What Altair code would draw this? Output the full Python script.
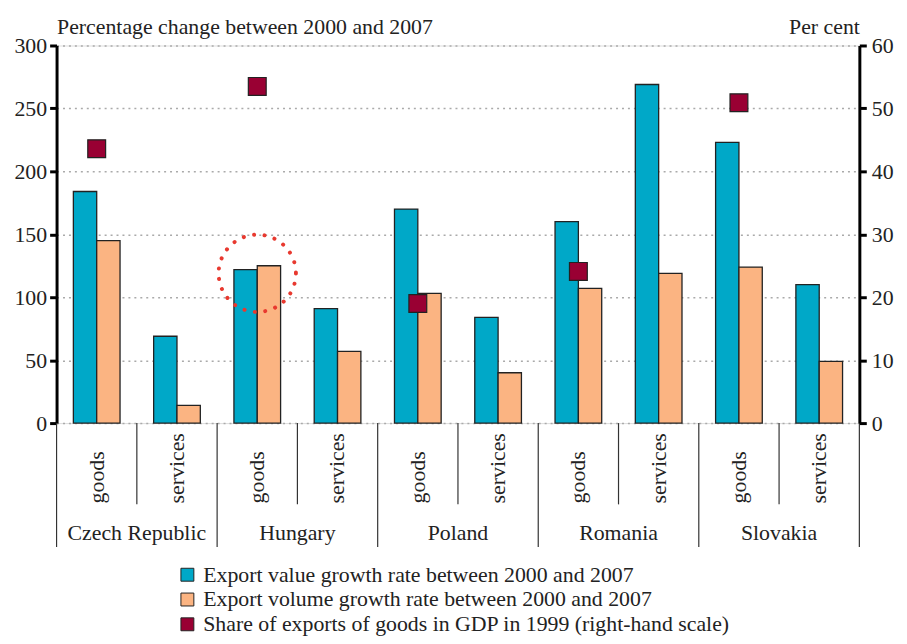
import altair as alt
import pandas as pd

# ---------------- data ----------------
countries = ["Czech Republic", "Hungary", "Poland", "Romania", "Slovakia"]
types = ["goods", "services"]
value_growth = [184, 69, 122, 91, 170, 84, 160, 269, 223, 110]
volume_growth = [145, 14, 125, 57, 103, 40, 107, 119, 124, 49]
goods_share = [43.6, 53.5, 19.0, 24.1, 50.9]
series_labels = [
    "Export value growth rate between 2000 and 2007",
    "Export volume growth rate between 2000 and 2007",
    "Share of exports of goods in GDP in 1999 (right-hand scale)",
]
series_colors = ["#00a8c8", "#fbb482", "#990033"]
left_ticks = [0, 50, 100, 150, 200, 250, 300]
right_ticks = [0, 10, 20, 30, 40, 50, 60]
highlight_cat = "Hungary goods"
highlight_value = 119

# ---------------- tables ----------------
cats = [f"{c} {t}" for c in countries for t in types]
bars_df = pd.DataFrame(
    [{"cat": cats[i], "series": series_labels[0], "value": value_growth[i]} for i in range(len(cats))]
    + [{"cat": cats[i], "series": series_labels[1], "value": volume_growth[i]} for i in range(len(cats))]
)
share_df = pd.DataFrame(
    {"cat": [f"{c} goods" for c in countries], "share": goods_share, "series": series_labels[2]}
)
sub_df = pd.DataFrame({"cat": cats, "label": [t for c in countries for t in types]})
country_df = pd.DataFrame({"cat": [f"{c} goods" for c in countries], "label": countries})
goods_df = pd.DataFrame({"cat": [f"{c} goods" for c in countries]})
serv_df = pd.DataFrame({"cat": [f"{c} services" for c in countries]})
last_df = pd.DataFrame({"cat": [cats[-1]]})
circle_df = pd.DataFrame({"cat": [highlight_cat], "cy": [highlight_value]})

FONT = "Liberation Serif"
TXT = "#222222"
W, H = 810, 381
FS = 22

xscale = alt.Scale(domain=cats, paddingInner=0, paddingOuter=0)
color_scale = alt.Scale(domain=series_labels, range=series_colors)
left_scale = alt.Scale(domain=[0, 300], nice=False, zero=True)

legend = alt.Legend(
    title=None, orient="none", legendX=121, legendY=523, direction="vertical",
    symbolType="square", symbolSize=170, symbolStrokeColor="#222222", symbolStrokeWidth=1,
    labelFont=FONT, labelFontSize=FS, labelColor=TXT, labelLimit=1000, rowPadding=3, labelOffset=5,
)

bars = alt.Chart(bars_df).mark_bar(stroke="#222222", strokeWidth=1.3).encode(
    x=alt.X("cat:N", scale=xscale, axis=alt.Axis(
        title=None, labels=False, domainColor="black", domainWidth=3, tickBand="extent",
        tickSize=7, tickWidth=2, tickColor="black", grid=False, zindex=1)),
    xOffset=alt.XOffset("series:N", scale=alt.Scale(domain=series_labels[:2], paddingInner=0, paddingOuter=0.72)),
    y=alt.Y("value:Q", scale=left_scale, axis=alt.Axis(
        orient="left", values=left_ticks, title="Percentage change between 2000 and 2007", titleAngle=0,
        titleX=0, titleY=-12, titleAlign="left", titleBaseline="alphabetic", titleFont=FONT,
        titleFontSize=FS, titleFontWeight="normal", titleColor=TXT, labelFont=FONT, labelFontSize=FS,
        labelColor=TXT, labelPadding=3, domainColor="black", domainWidth=3, tickColor="black",
        tickWidth=3, tickSize=7, grid=True, gridColor="#aaaaaa", gridDash=[2, 4], gridWidth=1.5,
        zindex=0)),
    color=alt.Color("series:N", scale=color_scale, legend=legend),
)

circle = alt.Chart(circle_df).mark_point(
    shape="circle", size=6084, filled=False, stroke="#e8392f", strokeWidth=4,
    strokeDash=[0.1, 10.5], strokeCap="round", opacity=1,
).encode(
    x=alt.X("cat:N", scale=xscale, axis=None),
    y=alt.Y("cy:Q", scale=left_scale, axis=None),
)

sub_labels = alt.Chart(sub_df).mark_text(
    angle=270, align="left", baseline="middle", font=FONT, fontSize=FS, color=TXT
).encode(
    x=alt.X("cat:N", scale=xscale, axis=None),
    y=alt.value(H + 81),
    text="label:N",
)

country_labels = alt.Chart(country_df).mark_text(
    align="center", baseline="alphabetic", font=FONT, fontSize=FS, color=TXT
).encode(
    x=alt.X("cat:N", scale=xscale, axis=None, bandPosition=1),
    y=alt.value(H + 118),
    text="label:N",
)

rule_style = dict(color="#333333", strokeWidth=1.2)
country_rules = alt.Chart(goods_df).mark_rule(**rule_style).encode(
    x=alt.X("cat:N", scale=xscale, axis=None, bandPosition=0),
    y=alt.value(H), y2=alt.value(H + 125),
)
last_rule = alt.Chart(last_df).mark_rule(**rule_style).encode(
    x=alt.X("cat:N", scale=xscale, axis=None, bandPosition=1),
    y=alt.value(H), y2=alt.value(H + 125),
)
sub_rules = alt.Chart(serv_df).mark_rule(**rule_style).encode(
    x=alt.X("cat:N", scale=xscale, axis=None, bandPosition=0),
    y=alt.value(H), y2=alt.value(H + 82),
)

squares = alt.Chart(share_df).mark_square(size=324, stroke="#222222", strokeWidth=1.2, opacity=1).encode(
    x=alt.X("cat:N", scale=xscale, axis=None),
    y=alt.Y("share:Q", scale=alt.Scale(domain=[0, 60], nice=False), axis=alt.Axis(
        orient="right", values=right_ticks, title="Per cent", titleAngle=0, titleX=0, titleY=-12,
        titleAlign="right", titleBaseline="alphabetic", titleFont=FONT, titleFontSize=FS,
        titleFontWeight="normal", titleColor=TXT, labelFont=FONT, labelFontSize=FS, labelColor=TXT,
        labelPadding=5, domainColor="black", domainWidth=3, tickColor="black", tickWidth=3, tickSize=7,
        grid=False, zindex=1)),
    color=alt.Color("series:N", scale=color_scale, legend=legend),
)

chart = alt.layer(
    country_rules, last_rule, sub_rules, bars, circle, squares, sub_labels, country_labels
).resolve_scale(y="independent").resolve_axis(y="independent").properties(
    width=W, height=H,
    autosize=alt.AutoSizeParams(type="none"),
    padding={"left": 49, "top": 35, "right": 40, "bottom": 214},
).configure_view(stroke=None).configure(background="white")

chart.save("out.html", embed_options={"renderer": "svg", "actions": False})
